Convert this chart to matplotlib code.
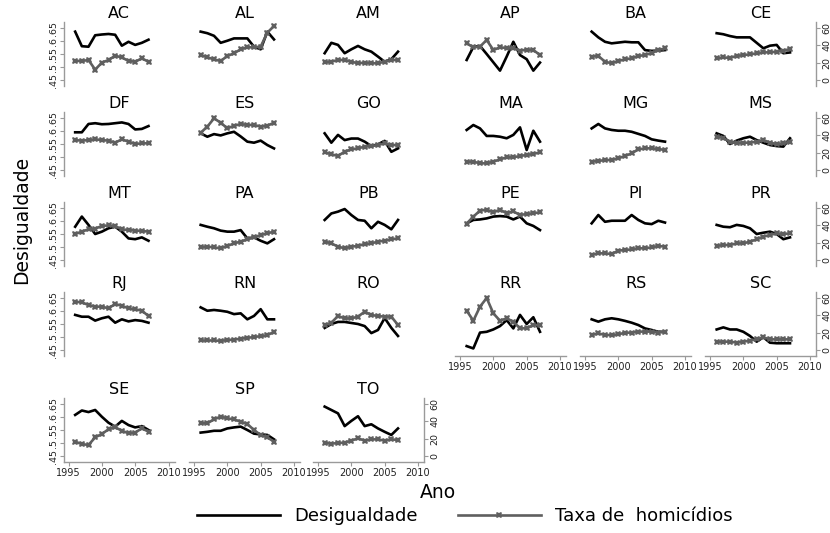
import matplotlib.pyplot as plt
from matplotlib.lines import Line2D

plt.rcParams["font.family"] = ["DejaVu Sans"]

W, H = 830, 533
GREY = "#5f5f5f"
AXIS = "#9a9a9a"

years = list(range(1996, 2008))

states = ["AC", "AL", "AM", "AP", "BA", "CE",
          "DF", "ES", "GO", "MA", "MG", "MS",
          "MT", "PA", "PB", "PE", "PI", "PR",
          "RJ", "RN", "RO", "RR", "RS", "SC",
          "SE", "SP", "TO"]

# inequality (left axis)
desigualdade = [
    [.636, .580, .578, .622, .625, .627, .624, .582, .597, .585, .593, .605],  # AC
    [.636, .630, .620, .593, .601, .610, .610, .610, .578, .568, .636, .606],  # AL
    [.553, .593, .585, .553, .568, .581, .568, .559, .540, .520, .530, .559],  # AM
    [.527, .577, .581, .550, .518, .486, .540, .597, .546, .530, .486, .517],  # AP
    [.636, .614, .597, .591, .594, .597, .595, .595, .565, .562, .563, .565],  # BA
    [.630, .626, .619, .614, .614, .614, .593, .572, .582, .585, .553, .556],  # CE
    [.595, .595, .627, .630, .626, .627, .630, .633, .627, .606, .608, .619],  # DF
    [.591, .578, .588, .583, .591, .597, .579, .559, .555, .563, .546, .533],  # ES
    [.591, .555, .585, .565, .571, .571, .559, .542, .549, .562, .520, .533],  # GO
    [.604, .623, .610, .581, .581, .578, .572, .585, .614, .527, .601, .559],  # MA
    [.610, .627, .610, .604, .601, .601, .597, .589, .581, .568, .563, .559],  # MG
    [.591, .581, .550, .563, .572, .578, .565, .555, .546, .542, .540, .572],  # MS
    [.578, .617, .585, .550, .559, .572, .578, .559, .533, .530, .537, .524],  # MT
    [.585, .578, .572, .563, .559, .559, .565, .533, .537, .524, .514, .530],  # PA
    [.604, .629, .636, .646, .623, .604, .601, .572, .597, .585, .568, .604],  # PB
    [.591, .604, .606, .610, .617, .619, .617, .606, .617, .591, .581, .565],  # PE
    [.591, .623, .597, .601, .601, .601, .623, .604, .591, .588, .601, .594],  # PI
    [.585, .578, .576, .585, .581, .572, .550, .555, .559, .550, .530, .537],  # PR
    [.585, .578, .578, .563, .572, .578, .555, .568, .560, .565, .562, .555],  # RJ
    [.614, .601, .604, .601, .597, .588, .591, .568, .581, .607, .568, .568],  # RN
    [.535, .550, .558, .558, .554, .550, .542, .515, .527, .573, .535, .504],  # RO
    [.465, .456, .517, .520, .529, .542, .565, .533, .585, .550, .576, .520],  # RR
    [.568, .559, .568, .572, .568, .562, .555, .546, .533, .527, .520, .520],  # RS
    [.529, .537, .529, .529, .520, .504, .482, .499, .478, .476, .476, .476],  # SC
    [.608, .625, .619, .627, .601, .578, .563, .585, .569, .560, .565, .550],  # SE
    [.540, .543, .547, .547, .556, .560, .563, .550, .536, .533, .531, .514],  # SP
    [.640, .627, .614, .565, .585, .603, .565, .572, .556, .543, .531, .556],  # TO
]

# homicide rate (right axis)
homicidios = [
    [22, 22, 23, 12, 20, 23, 28, 26, 22, 21, 25, 21],
    [28.8, 26.2, 23.8, 21.9, 27.7, 30.8, 35.4, 37.7, 37.7, 38.5, 54.6, 62.3],
    [20.4, 21.1, 23.1, 23.1, 21.1, 19.3, 20, 19.3, 19.3, 21.1, 23.1, 23.1],
    [42.3, 37.7, 38.5, 46.2, 34.6, 37.7, 36.9, 36.9, 33.8, 35.0, 34.6, 28.8],
    [26.9, 27.7, 21.1, 19.3, 21.9, 23.9, 25.0, 27.7, 28.8, 31.2, 34.6, 36.5],
    [25.0, 26.0, 25.6, 27.7, 28.8, 29.6, 30.8, 31.9, 31.9, 32.7, 33.8, 35.8],
    [34.6, 33.8, 34.6, 35.4, 34.6, 33.8, 31.5, 35.4, 32.7, 30.0, 30.8, 30.8],
    [43.0, 50.0, 59.6, 54.6, 48.1, 51.0, 53.0, 52.0, 52.0, 50.0, 51.0, 54.6],
    [20.4, 18.1, 16.2, 21.2, 23.8, 25.0, 26.9, 27.7, 28.8, 30.8, 28.8, 28.8],
    [9.6, 9.6, 7.7, 7.7, 9.6, 12.3, 14.6, 14.6, 16.2, 17.3, 18.5, 20.4],
    [9.6, 10.4, 11.5, 11.5, 13.5, 16.2, 19.2, 23.8, 25.0, 25.0, 24.2, 23.1],
    [38.5, 36.9, 32.7, 31.0, 31.5, 31.5, 32.7, 34.6, 31.5, 30.0, 30.8, 32.7],
    [30.0, 32.7, 35.4, 36.2, 39.2, 40.0, 39.2, 35.4, 34.6, 34.0, 33.5, 32.7],
    [14.6, 15.4, 14.6, 13.5, 16.2, 19.2, 21.2, 23.8, 26.2, 28.8, 30.8, 32.7],
    [21.2, 19.2, 15.4, 13.5, 15.4, 16.2, 18.5, 19.2, 21.2, 22.3, 23.8, 25.0],
    [42, 50, 57, 58, 55, 58, 54, 56, 52, 53, 54, 55],
    [5.8, 7.7, 7.7, 6.9, 10.8, 11.5, 12.3, 13.5, 13.5, 14.6, 16.2, 15.4],
    [16.2, 17.3, 17.3, 19.2, 19.2, 21.2, 23.8, 26.9, 28.8, 30.8, 30.0, 30.8],
    [55.7, 55.0, 51.9, 50.0, 50.0, 48.1, 53.1, 51.0, 48.1, 47.0, 45.4, 39.2],
    [11, 11, 11, 10.5, 11.5, 12, 13, 14, 15, 16, 17, 21],
    [28.8, 31.5, 39.2, 36.5, 36.5, 38.5, 44.2, 40.4, 39.2, 38.5, 38.5, 28.8],
    [45.4, 33.8, 50.0, 60.0, 42.3, 33.8, 36.5, 32.7, 25.0, 25.0, 28.8, 28.8],
    [17.3, 19.2, 17.3, 17.3, 18.0, 20.0, 20.0, 21.2, 21.2, 21.2, 20.0, 21.2],
    [9.6, 9.6, 9.6, 8.5, 9.6, 10.8, 12.3, 14.6, 12.3, 12.3, 12.3, 12.3],
    [16.5, 13.8, 12.7, 21.5, 25.4, 30.8, 33.1, 29.2, 26.2, 27.0, 31.9, 28.1],
    [37.7, 37.7, 42.3, 45.4, 43.5, 42.3, 39.6, 36.9, 30.0, 24.2, 21.5, 16.5],
    [15.0, 14.2, 15.0, 15.4, 17.7, 20.4, 17.7, 19.2, 19.2, 17.7, 19.2, 18.5],
]

left_ticks = [.45, .5, .55, .6, .65]
left_labels = [".45", ".5", ".55", ".6", ".65"]
right_ticks = [0, 20, 40, 60]
x_ticks = [1995, 2000, 2005, 2010]

# layout in pixels
col_x1995 = [68.5, 194, 318, 460, 585, 710]
row_top = [28, 118, 208, 298, 404]  # pixel of .65 / 60
SPAN = 52.0
PXYR = 100 / 15.0
XMIN, XMAX = 1994.3, 2010.9
PAD = 6
bottom_axes = {"RR", "RS", "SC", "SE", "SP", "TO"}

fig = plt.figure(figsize=(W / 100, H / 100), dpi=100)

dy = PAD / SPAN * 0.2
dr = PAD / SPAN * 60

for i, st in enumerate(states):
    r, c = divmod(i, 6)
    left = col_x1995[c] - (1995 - XMIN) * PXYR
    width = (XMAX - XMIN) * PXYR
    top = row_top[r] - PAD
    height = SPAN + 2 * PAD
    ax = fig.add_axes([left / W, 1 - (top + height) / H, width / W, height / H])
    ax2 = ax.twinx()

    ax.plot(years, desigualdade[i], color="black", lw=1.9, zorder=3)
    ax2.plot(years, homicidios[i], color=GREY, lw=1.9, marker="X",
             markersize=4.8, markeredgewidth=0, zorder=2)

    ax.set_xlim(XMIN, XMAX)
    ax.set_ylim(.45 - dy, .65 + dy)
    ax2.set_ylim(-dr, 60 + dr)
    ax.set_title(st, fontsize=11.5, pad=3)

    for a in (ax, ax2):
        for s in a.spines.values():
            s.set_visible(False)
            s.set_color(AXIS)
            s.set_linewidth(1.0)
        a.patch.set_visible(False)
        a.tick_params(color=AXIS, length=3, width=0.8, labelsize=6.8,
                      labelcolor="#222222", pad=1.5)

    if c == 0:
        ax.spines["left"].set_visible(True)
        ax.set_yticks(left_ticks)
        ax.set_yticklabels(left_labels, rotation=90, va="center")
    else:
        ax.set_yticks([])

    if c == 5 or st == "TO":
        ax2.spines["right"].set_visible(True)
        ax2.set_yticks(right_ticks)
        ax2.set_yticklabels([str(t) for t in right_ticks], rotation=90, va="center")
    else:
        ax2.set_yticks([])

    if st in bottom_axes:
        ax.spines["bottom"].set_visible(True)
        ax.set_xticks(x_ticks)
        ax.tick_params(axis="x", labelsize=7)
    else:
        ax.set_xticks([])

fig.text(22 / W, 1 - 220 / H, "Desigualdade", rotation=90, ha="center",
         va="center", fontsize=13.5)
fig.text(438 / W, 1 - 492 / H, "Ano", ha="center", va="center", fontsize=13.5)

handles = [
    Line2D([], [], color="black", lw=1.9),
    Line2D([], [], color=GREY, lw=1.9, marker="X", markersize=5,
           markeredgewidth=0),
]
fig.legend(handles, ["Desigualdade", "Taxa de  homicídios"], ncol=2,
           loc="center", bbox_to_anchor=(465 / W, 1 - 516 / H), frameon=False,
           fontsize=13, handlelength=4.6, handletextpad=0.8,
           columnspacing=2.2, borderpad=0, borderaxespad=0)

fig.savefig("out.png", dpi=100)
